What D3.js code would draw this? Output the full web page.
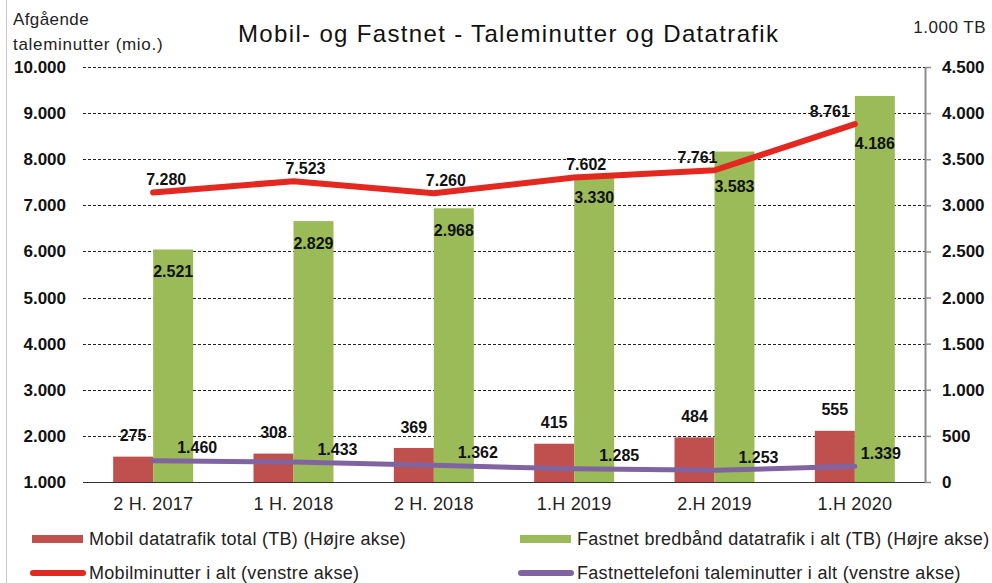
<!DOCTYPE html>
<html>
<head>
<meta charset="utf-8">
<script src="https://cdn.jsdelivr.net/npm/d3@7"></script>
<style>
  body { margin: 0; background: #fff; }
  svg { font-family: "Liberation Sans", Arial, sans-serif; }
</style>
</head>
<body>
<svg id="chart" width="992" height="583"></svg>
<script>
// data
const categories = ['2 H. 2017', '1 H. 2018', '2 H. 2018', '1.H 2019', '2.H 2019', '1.H 2020'];
const mobilData = [275, 308, 369, 415, 484, 555];           // TB, right axis
const fastnetData = [2521, 2829, 2968, 3330, 3583, 4186];   // TB, right axis
const mobilMinutter = [7280, 7523, 7260, 7602, 7761, 8761]; // mio., left axis
const fastnetMinutter = [1460, 1433, 1362, 1285, 1253, 1339];
const leftTicks = [1000, 2000, 3000, 4000, 5000, 6000, 7000, 8000, 9000, 10000];
const rightTicks = [0, 500, 1000, 1500, 2000, 2500, 3000, 3500, 4000, 4500];

// label nudges (layout only)
const redLineLabelDx = [13, 12, 12, 12, -17, -25];
const greenLabelDy = [22, 22, 22, 22, 35, 47];
const purpleLabelDx = [44, 44, 44, 45, 44, 26];

const colors = {
  mobilBar: '#c0504d',
  fastnetBar: '#9bbb59',
  mobilLine: '#e2281f',
  fastnetLine: '#8064a2'
};

const da = d3.formatLocale({ decimal: ',', thousands: '.', grouping: [3], currency: ['', ' kr'] });
const fmt = da.format(',d');

const svg = d3.select('#chart');
const plotLeft = 83, plotRight = 925, plotTop = 67, plotBottom = 482;

const x = d3.scaleBand().domain(categories).range([plotLeft, plotRight]);
const yL = d3.scaleLinear().domain([1000, 10000]).range([plotBottom, plotTop]);
const yR = d3.scaleLinear().domain([0, 4500]).range([plotBottom, plotTop]);
const barW = 40;
const cx = d => x(d) + x.bandwidth() / 2;

// outer frame line on the left
svg.append('line')
  .attr('x1', 6.5).attr('x2', 6.5).attr('y1', 0).attr('y2', 583)
  .attr('stroke', '#c8c8c8').attr('stroke-width', 1);

// titles
svg.append('text').attr('x', 13).attr('y', 25)
  .attr('font-size', 17).attr('letter-spacing', 0.4).attr('fill', '#222').text('Afgående');
svg.append('text').attr('x', 13).attr('y', 50)
  .attr('font-size', 17).attr('letter-spacing', 0.7).attr('fill', '#222').text('taleminutter (mio.)');
svg.append('text').attr('x', 238).attr('y', 42)
  .attr('font-size', 24).attr('textLength', 540).attr('lengthAdjust', 'spacing')
  .attr('fill', '#111').text('Mobil- og Fastnet - Taleminutter og Datatrafik');
svg.append('text').attr('x', 986).attr('y', 33).attr('text-anchor', 'end')
  .attr('font-size', 17).attr('letter-spacing', 0.5).attr('fill', '#222').text('1.000 TB');

// gridlines
svg.append('g')
  .selectAll('line')
  .data(leftTicks.slice(1))
  .join('line')
  .attr('x1', plotLeft).attr('x2', plotRight)
  .attr('y1', d => Math.round(yL(d)) + 0.5).attr('y2', d => Math.round(yL(d)) + 0.5)
  .attr('stroke', '#222').attr('stroke-width', 1).attr('stroke-dasharray', '3,2');

// left axis (labels only)
const axL = svg.append('g')
  .attr('transform', `translate(${plotLeft},0)`)
  .call(d3.axisLeft(yL).tickValues(leftTicks).tickSize(0).tickPadding(17).tickFormat(fmt));
axL.select('.domain').remove();
axL.selectAll('text').attr('font-size', 17).attr('font-weight', 'bold').attr('fill', '#111')
  .attr('font-family', '"Liberation Sans", Arial, sans-serif');

// bars
const bars = svg.append('g');
bars.selectAll('rect.mobil')
  .data(mobilData)
  .join('rect')
  .attr('class', 'mobil')
  .attr('x', (d, i) => cx(categories[i]) - barW)
  .attr('y', d => yR(d))
  .attr('width', barW)
  .attr('height', d => plotBottom - yR(d))
  .attr('fill', colors.mobilBar);
bars.selectAll('rect.fastnet')
  .data(fastnetData)
  .join('rect')
  .attr('class', 'fastnet')
  .attr('x', (d, i) => cx(categories[i]))
  .attr('y', d => yR(d))
  .attr('width', barW)
  .attr('height', d => plotBottom - yR(d))
  .attr('fill', colors.fastnetBar);

// baseline
svg.append('line')
  .attr('x1', plotLeft).attr('x2', plotRight).attr('y1', plotBottom + 0.5).attr('y2', plotBottom + 0.5)
  .attr('stroke', '#333').attr('stroke-width', 1.2);

// right axis
const axR = svg.append('g')
  .attr('transform', `translate(${plotRight},0)`)
  .call(d3.axisRight(yR).tickValues(rightTicks).tickSize(6).tickSizeOuter(0).tickPadding(11).tickFormat(fmt));
axR.select('.domain').attr('stroke', '#8c8c8c').attr('stroke-width', 2);
axR.selectAll('.tick line').attr('stroke', '#8c8c8c').attr('stroke-width', 1.5);
axR.selectAll('text').attr('font-size', 17).attr('font-weight', 'bold').attr('fill', '#111')
  .attr('font-family', '"Liberation Sans", Arial, sans-serif');

// category axis labels
svg.append('g')
  .selectAll('text')
  .data(categories)
  .join('text')
  .attr('x', d => cx(d))
  .attr('y', 510)
  .attr('text-anchor', 'middle')
  .attr('font-size', 18)
  .attr('letter-spacing', 0.2)
  .attr('fill', '#222')
  .text(d => d);

// lines
const lineL = d3.line()
  .x((d, i) => cx(categories[i]))
  .y(d => yL(d));

svg.append('path')
  .datum(fastnetMinutter)
  .attr('d', lineL)
  .attr('fill', 'none')
  .attr('stroke', colors.fastnetLine)
  .attr('stroke-width', 5)
  .attr('stroke-linejoin', 'round')
  .attr('stroke-linecap', 'round');

svg.append('path')
  .datum(mobilMinutter)
  .attr('d', lineL)
  .attr('fill', 'none')
  .attr('stroke', colors.mobilLine)
  .attr('stroke-width', 6)
  .attr('stroke-linejoin', 'round')
  .attr('stroke-linecap', 'round');

// data labels
const labels = svg.append('g')
  .attr('font-size', 16)
  .attr('font-weight', 'bold')
  .attr('fill', '#111')
  .attr('text-anchor', 'middle');

labels.selectAll('text.lm')
  .data(mobilData)
  .join('text')
  .attr('class', 'lm')
  .attr('x', (d, i) => cx(categories[i]) - barW / 2)
  .attr('y', d => yR(d) - 21)
  .attr('dy', '0.35em')
  .text(fmt);

labels.selectAll('text.lf')
  .data(fastnetData)
  .join('text')
  .attr('class', 'lf')
  .attr('x', (d, i) => cx(categories[i]) + barW / 2)
  .attr('y', (d, i) => yR(d) + greenLabelDy[i])
  .attr('dy', '0.35em')
  .text(fmt);

labels.selectAll('text.lmm')
  .data(mobilMinutter)
  .join('text')
  .attr('class', 'lmm')
  .attr('x', (d, i) => cx(categories[i]) + redLineLabelDx[i])
  .attr('y', d => yL(d) - 13)
  .attr('dy', '0.35em')
  .text(fmt);

labels.selectAll('text.lfm')
  .data(fastnetMinutter)
  .join('text')
  .attr('class', 'lfm')
  .attr('x', (d, i) => cx(categories[i]) + purpleLabelDx[i])
  .attr('y', d => yL(d) - 13)
  .attr('dy', '0.35em')
  .text(fmt);

// legend
const legendItems = [
  { label: 'Mobil datatrafik total (TB) (Højre akse)', type: 'bar', color: colors.mobilBar, x: 32, y: 539 },
  { label: 'Fastnet bredbånd datatrafik i alt (TB) (Højre akse)', type: 'bar', color: colors.fastnetBar, x: 520, y: 539 },
  { label: 'Mobilminutter i alt (venstre akse)', type: 'line', color: colors.mobilLine, x: 32, y: 573 },
  { label: 'Fastnettelefoni taleminutter i alt (venstre akse)', type: 'line', color: colors.fastnetLine, x: 520, y: 573 }
];

const legend = svg.append('g')
  .selectAll('g')
  .data(legendItems)
  .join('g')
  .attr('transform', d => `translate(${d.x},${d.y})`);

legend.filter(d => d.type === 'bar')
  .append('rect')
  .attr('x', 0).attr('y', -4).attr('width', 51).attr('height', 8)
  .attr('fill', d => d.color);

legend.filter(d => d.type === 'line')
  .append('line')
  .attr('x1', 1).attr('x2', 51).attr('y1', 0).attr('y2', 0)
  .attr('stroke', d => d.color).attr('stroke-width', 6).attr('stroke-linecap', 'round');

legend.append('text')
  .attr('x', 57)
  .attr('y', 0)
  .attr('dy', '0.35em')
  .attr('font-size', 18)
  .attr('letter-spacing', 0.3)
  .attr('fill', '#222')
  .text(d => d.label);
</script>
</body>
</html>
